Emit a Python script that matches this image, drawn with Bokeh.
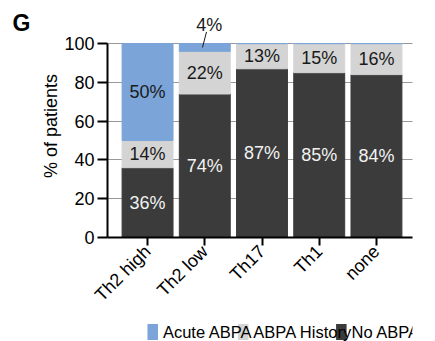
import math
from bokeh.plotting import figure
from bokeh.layouts import column
from bokeh.models import ColumnDataSource, Range1d, FixedTicker, Label, Arrow
from bokeh.core.properties import value
from bokeh.embed import file_html
from bokeh.resources import INLINE

# --- data -------------------------------------------------------------------
categories = ["Th2 high", "Th2 low", "Th17", "Th1", "none"]
no_abpa = [36, 74, 87, 85, 84]
abpa_history = [14, 22, 13, 15, 16]
acute_abpa = [50, 4, 0, 0, 0]
y_ticks = [0, 20, 40, 60, 80, 100]

series_names = ["No ABPA", "ABPA History", "Acute ABPA"]
series_values = [no_abpa, abpa_history, acute_abpa]
series_colors = ["#3b3b3b", "#d4d4d4", "#7ba4d9"]
label_colors = ["#f2f2f2", "#1a1a1a", "#1a1a1a"]

FONT = "Liberation Sans"
xs = list(range(len(categories)))

p = figure(width=435, height=322, output_backend="svg", toolbar_location=None,
           x_range=Range1d(-0.70, 4.63), y_range=Range1d(0, 115),
           min_border_left=107, min_border_right=23,
           min_border_top=14, min_border_bottom=85)
p.outline_line_color = None
p.background_fill_color = "white"

# dotted horizontal reference lines
p.xgrid.visible = False
p.ygrid.ticker = FixedTicker(ticks=[t for t in y_ticks if t > 0])
p.ygrid.grid_line_color = "#333333"
p.ygrid.grid_line_dash = "1 1"
p.ygrid.grid_line_width = 1

# stacked bars
source = ColumnDataSource(dict(x=xs, **{n: v for n, v in zip(series_names, series_values)}))
p.vbar_stack(series_names, x="x", width=0.89, source=source,
             color=series_colors, line_color=series_colors)

# percentage labels inside (or above, for thin slices) each segment
lab = dict(x=[], y=[], text=[], color=[])
small = []
for si, vals in enumerate(series_values):
    for ci, v in enumerate(vals):
        if v <= 0:
            continue
        base = sum(series_values[k][ci] for k in range(si))
        if v < 8:
            small.append((ci, base + v, f"{v}%"))
            continue
        lab["x"].append(ci)
        lab["y"].append(base + v / 2)
        lab["text"].append(f"{v}%")
        lab["color"].append(label_colors[si])
p.text(x="x", y="y", text="text", source=ColumnDataSource(lab),
       text_color="color", text_align="center", text_baseline="middle",
       text_font=value(FONT), text_font_size="18px")

for ci, top, txt in small:
    p.add_layout(Arrow(x_start=ci - 0.04, y_start=top - 2, x_end=ci + 0.03, y_end=top + 6,
                       end=None, line_color="#1a1a1a", line_width=1))
    p.add_layout(Label(x=ci + 0.08, y=top + 9.5, text=txt, text_align="center",
                       text_baseline="middle", text_font=FONT,
                       text_font_size="18px", text_color="#1a1a1a"))

# axes
p.yaxis.ticker = FixedTicker(ticks=y_ticks)
p.yaxis.bounds = (0, 100)
p.yaxis.axis_label = "% of patients"
p.yaxis.axis_label_text_font = FONT
p.yaxis.axis_label_text_font_style = "normal"
p.yaxis.axis_label_text_font_size = "18px"
p.yaxis.axis_label_standoff = 0
p.yaxis.major_label_text_font = FONT
p.yaxis.major_label_text_font_size = "18px"
p.yaxis.major_label_standoff = 3
p.yaxis.major_tick_out = 10
p.yaxis.major_tick_in = 0
p.yaxis.minor_tick_out = 0
p.yaxis.minor_tick_in = 0

p.xaxis.ticker = FixedTicker(ticks=xs)
p.xaxis.major_label_overrides = {i: c for i, c in enumerate(categories)}
p.xaxis.major_label_orientation = math.pi / 4
p.xaxis.major_label_text_font = FONT
p.xaxis.major_label_text_font_size = "18px"
p.xaxis.major_label_standoff = 3
p.xaxis.major_tick_out = 8
p.xaxis.major_tick_in = 0
p.xaxis.minor_tick_out = 0
p.xaxis.minor_tick_in = 0

for ax in (p.xaxis, p.yaxis):
    ax.axis_line_width = 2
    ax.axis_line_color = "black"
    ax.major_tick_line_width = 2
    ax.major_tick_line_color = "black"
    ax.major_label_text_color = "black"
    ax.axis_label_text_color = "black"

# panel letter, drawn in the left side panel
p.add_layout(Label(x=12, y=35, x_units="canvas", y_units="canvas", text="G",
                   text_font=FONT, text_font_size="23px", text_font_style="bold",
                   text_color="black"), "left")

# key strip under the chart (order: Acute, History, No ABPA)
key_order = [2, 1, 0]
key_left = [57, 186, 326]
k = figure(width=435, height=19, output_backend="svg", toolbar_location=None,
           x_range=Range1d(0, 435), y_range=Range1d(0, 19),
           min_border_left=0, min_border_right=0, min_border_top=0, min_border_bottom=0)
k.axis.visible = False
k.grid.visible = False
k.outline_line_color = None
key_src = ColumnDataSource(dict(
    left=key_left,
    right=[x + 15 for x in key_left],
    tx=[x + 22 for x in key_left],
    name=[series_names[i] for i in key_order],
    color=[series_colors[i] for i in key_order],
))
k.quad(left="left", right="right", bottom=1.5, top=17.5, source=key_src,
       fill_color="color", line_color=None)
k.text(x="tx", y=9.5, text="name", source=key_src, text_baseline="middle",
       text_font=value(FONT), text_font_size="16.5px", text_color="black")

layout = column(p, k, spacing=0)
open("out.html", "w").write(file_html(layout, INLINE))
